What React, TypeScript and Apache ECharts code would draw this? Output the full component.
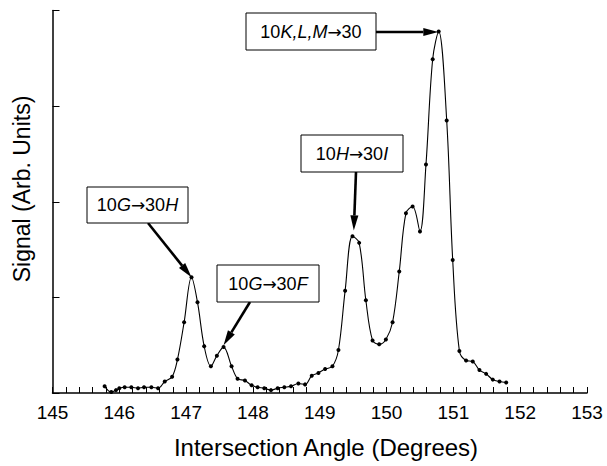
import React, { useEffect, useRef } from "react";
import * as echarts from "echarts";

const angles = [145.78,145.88,145.95,146.00,146.08,146.18,146.28,146.37,146.48,146.58,146.68,146.79,146.87,146.97,147.08,147.17,147.27,147.37,147.46,147.56,147.68,147.77,147.88,147.98,148.07,148.17,148.27,148.37,148.47,148.57,148.68,148.78,148.88,148.98,149.08,149.19,149.28,149.38,149.49,149.59,149.69,149.79,149.89,149.99,150.09,150.19,150.29,150.39,150.50,150.59,150.69,150.78,150.90,150.99,151.09,151.19,151.29,151.39,151.49,151.59,151.69,151.79];
const signal = [0.07,0.01,0.03,0.05,0.06,0.06,0.05,0.06,0.06,0.05,0.12,0.17,0.35,0.74,1.21,0.95,0.49,0.28,0.39,0.48,0.28,0.15,0.13,0.08,0.06,0.05,0.03,0.05,0.06,0.07,0.10,0.09,0.18,0.21,0.25,0.28,0.45,1.07,1.64,1.57,0.97,0.55,0.51,0.56,0.74,1.27,1.88,1.95,1.69,2.39,3.49,3.78,2.85,1.39,0.44,0.34,0.33,0.24,0.20,0.14,0.12,0.11];

const xTitle = "Intersection Angle (Degrees)";
const yTitle = "Signal (Arb. Units)";

// annotation texts (rich markup: n = normal, i = italic, a = arrow), targets in data units
const annoTexts = [
  "{n|10}{i|K,L,M}{a|→}{n|30}",
  "{n|10}{i|H}{a|→}{n|30}{i|I}",
  "{n|10}{i|G}{a|→}{n|30}{i|H}",
  "{n|10}{i|G}{a|→}{n|30}{i|F}",
];
const annoTargets: [number, number][] = [
  [150.775, 3.78],
  [149.51, 1.7],
  [147.08, 1.21],
  [147.56, 0.5],
];

const FONT = "'Liberation Sans', Arial, Helvetica, sans-serif";

export default function App() {
  const ref = useRef<HTMLDivElement>(null);
  useEffect(() => {
    document.body.style.margin = "0";
    const chart = echarts.init(ref.current!, null, { renderer: "svg" });
    chart.setOption({
      animation: false,
      backgroundColor: "#fff",
      grid: { left: 52.5, right: 20, top: 10.5, bottom: 73 },
      xAxis: {
        type: "value",
        min: 145,
        max: 153,
        interval: 1,
        axisLine: { lineStyle: { color: "#000", width: 1.5 } },
        axisTick: { inside: true, length: 6, lineStyle: { color: "#000", width: 1 } },
        minorTick: { show: true, splitNumber: 5, length: 6, lineStyle: { color: "#000", width: 1 } },
        axisLabel: { color: "#000", fontSize: 19, fontFamily: FONT, margin: 10 },
        splitLine: { show: false },
        minorSplitLine: { show: false },
      },
      yAxis: {
        type: "value",
        min: 0,
        max: 4,
        interval: 1,
        axisLine: { show: true, lineStyle: { color: "#000", width: 1.5 } },
        axisTick: { show: true, inside: true, length: 7, lineStyle: { color: "#000", width: 1 } },
        axisLabel: { show: false },
        splitLine: { show: false },
      },
      series: [
        {
          type: "line",
          data: angles.map((a, i) => [a, signal[i]]),
          smooth: 0.35,
          symbol: "circle",
          symbolSize: 4,
          itemStyle: { color: "#000" },
          lineStyle: { color: "#000", width: 1.1 },
        },
      ],
    });

    // layout of annotation boxes (pixels): center x, center y, width, height, arrow start
    const boxes = [
      { cx: 311, cy: 31.5, w: 130, h: 37, sx: 376, sy: 32 },
      { cx: 352, cy: 153.5, w: 102, h: 37, sx: 356, sy: 172 },
      { cx: 137.5, cy: 205, w: 101, h: 36, sx: 148, sy: 223 },
      { cx: 268, cy: 283.5, w: 102, h: 37, sx: 250, sy: 302 },
    ];
    const graphics: any[] = [];
    boxes.forEach((b, k) => {
      const tip = chart.convertToPixel({ gridIndex: 0 }, annoTargets[k]) as number[];
      const tx = tip[0];
      let ty = tip[1];
      if (k === 0) ty = b.sy;
      const dx = tx - b.sx;
      const dy = ty - b.sy;
      const len = Math.sqrt(dx * dx + dy * dy);
      const ux = dx / len;
      const uy = dy / len;
      const L = 15;
      const W = 4;
      const bx = tx - ux * L;
      const by = ty - uy * L;
      graphics.push({
        type: "line",
        shape: { x1: b.sx, y1: b.sy, x2: bx, y2: by },
        style: { stroke: "#000", lineWidth: 2.6 },
        z: 10,
      });
      graphics.push({
        type: "polygon",
        shape: {
          points: [
            [tx, ty],
            [bx - uy * W, by + ux * W],
            [bx + uy * W, by - ux * W],
          ],
        },
        style: { fill: "#000" },
        z: 10,
      });
      graphics.push({
        type: "rect",
        shape: { x: b.cx - b.w / 2, y: b.cy - b.h / 2, width: b.w, height: b.h },
        style: { fill: "#fff", stroke: "#000", lineWidth: 1 },
        z: 11,
      });
      graphics.push({
        type: "text",
        x: b.cx,
        y: b.cy,
        z: 12,
        style: {
          text: annoTexts[k],
          align: "center",
          verticalAlign: "middle",
          fill: "#000",
          font: `18px ${FONT}`,
          rich: {
            n: { fontSize: 18, fontFamily: FONT, fill: "#000" },
            i: { fontSize: 18, fontFamily: FONT, fontStyle: "italic", fill: "#000" },
            a: { fontSize: 17, fontFamily: "'DejaVu Sans'", fill: "#000" },
          },
        },
      });
    });
    graphics.push({
      type: "text",
      x: 326,
      y: 447,
      style: { text: xTitle, align: "center", verticalAlign: "middle", fill: "#000", font: `24px ${FONT}` },
    });
    graphics.push({
      type: "text",
      x: 22,
      y: 189,
      rotation: Math.PI / 2,
      style: { text: yTitle, align: "center", verticalAlign: "middle", fill: "#000", font: `23px ${FONT}` },
    });
    chart.setOption({ graphic: graphics });
    return () => chart.dispose();
  }, []);
  return <div ref={ref} style={{ width: 607, height: 466 }} />;
}
